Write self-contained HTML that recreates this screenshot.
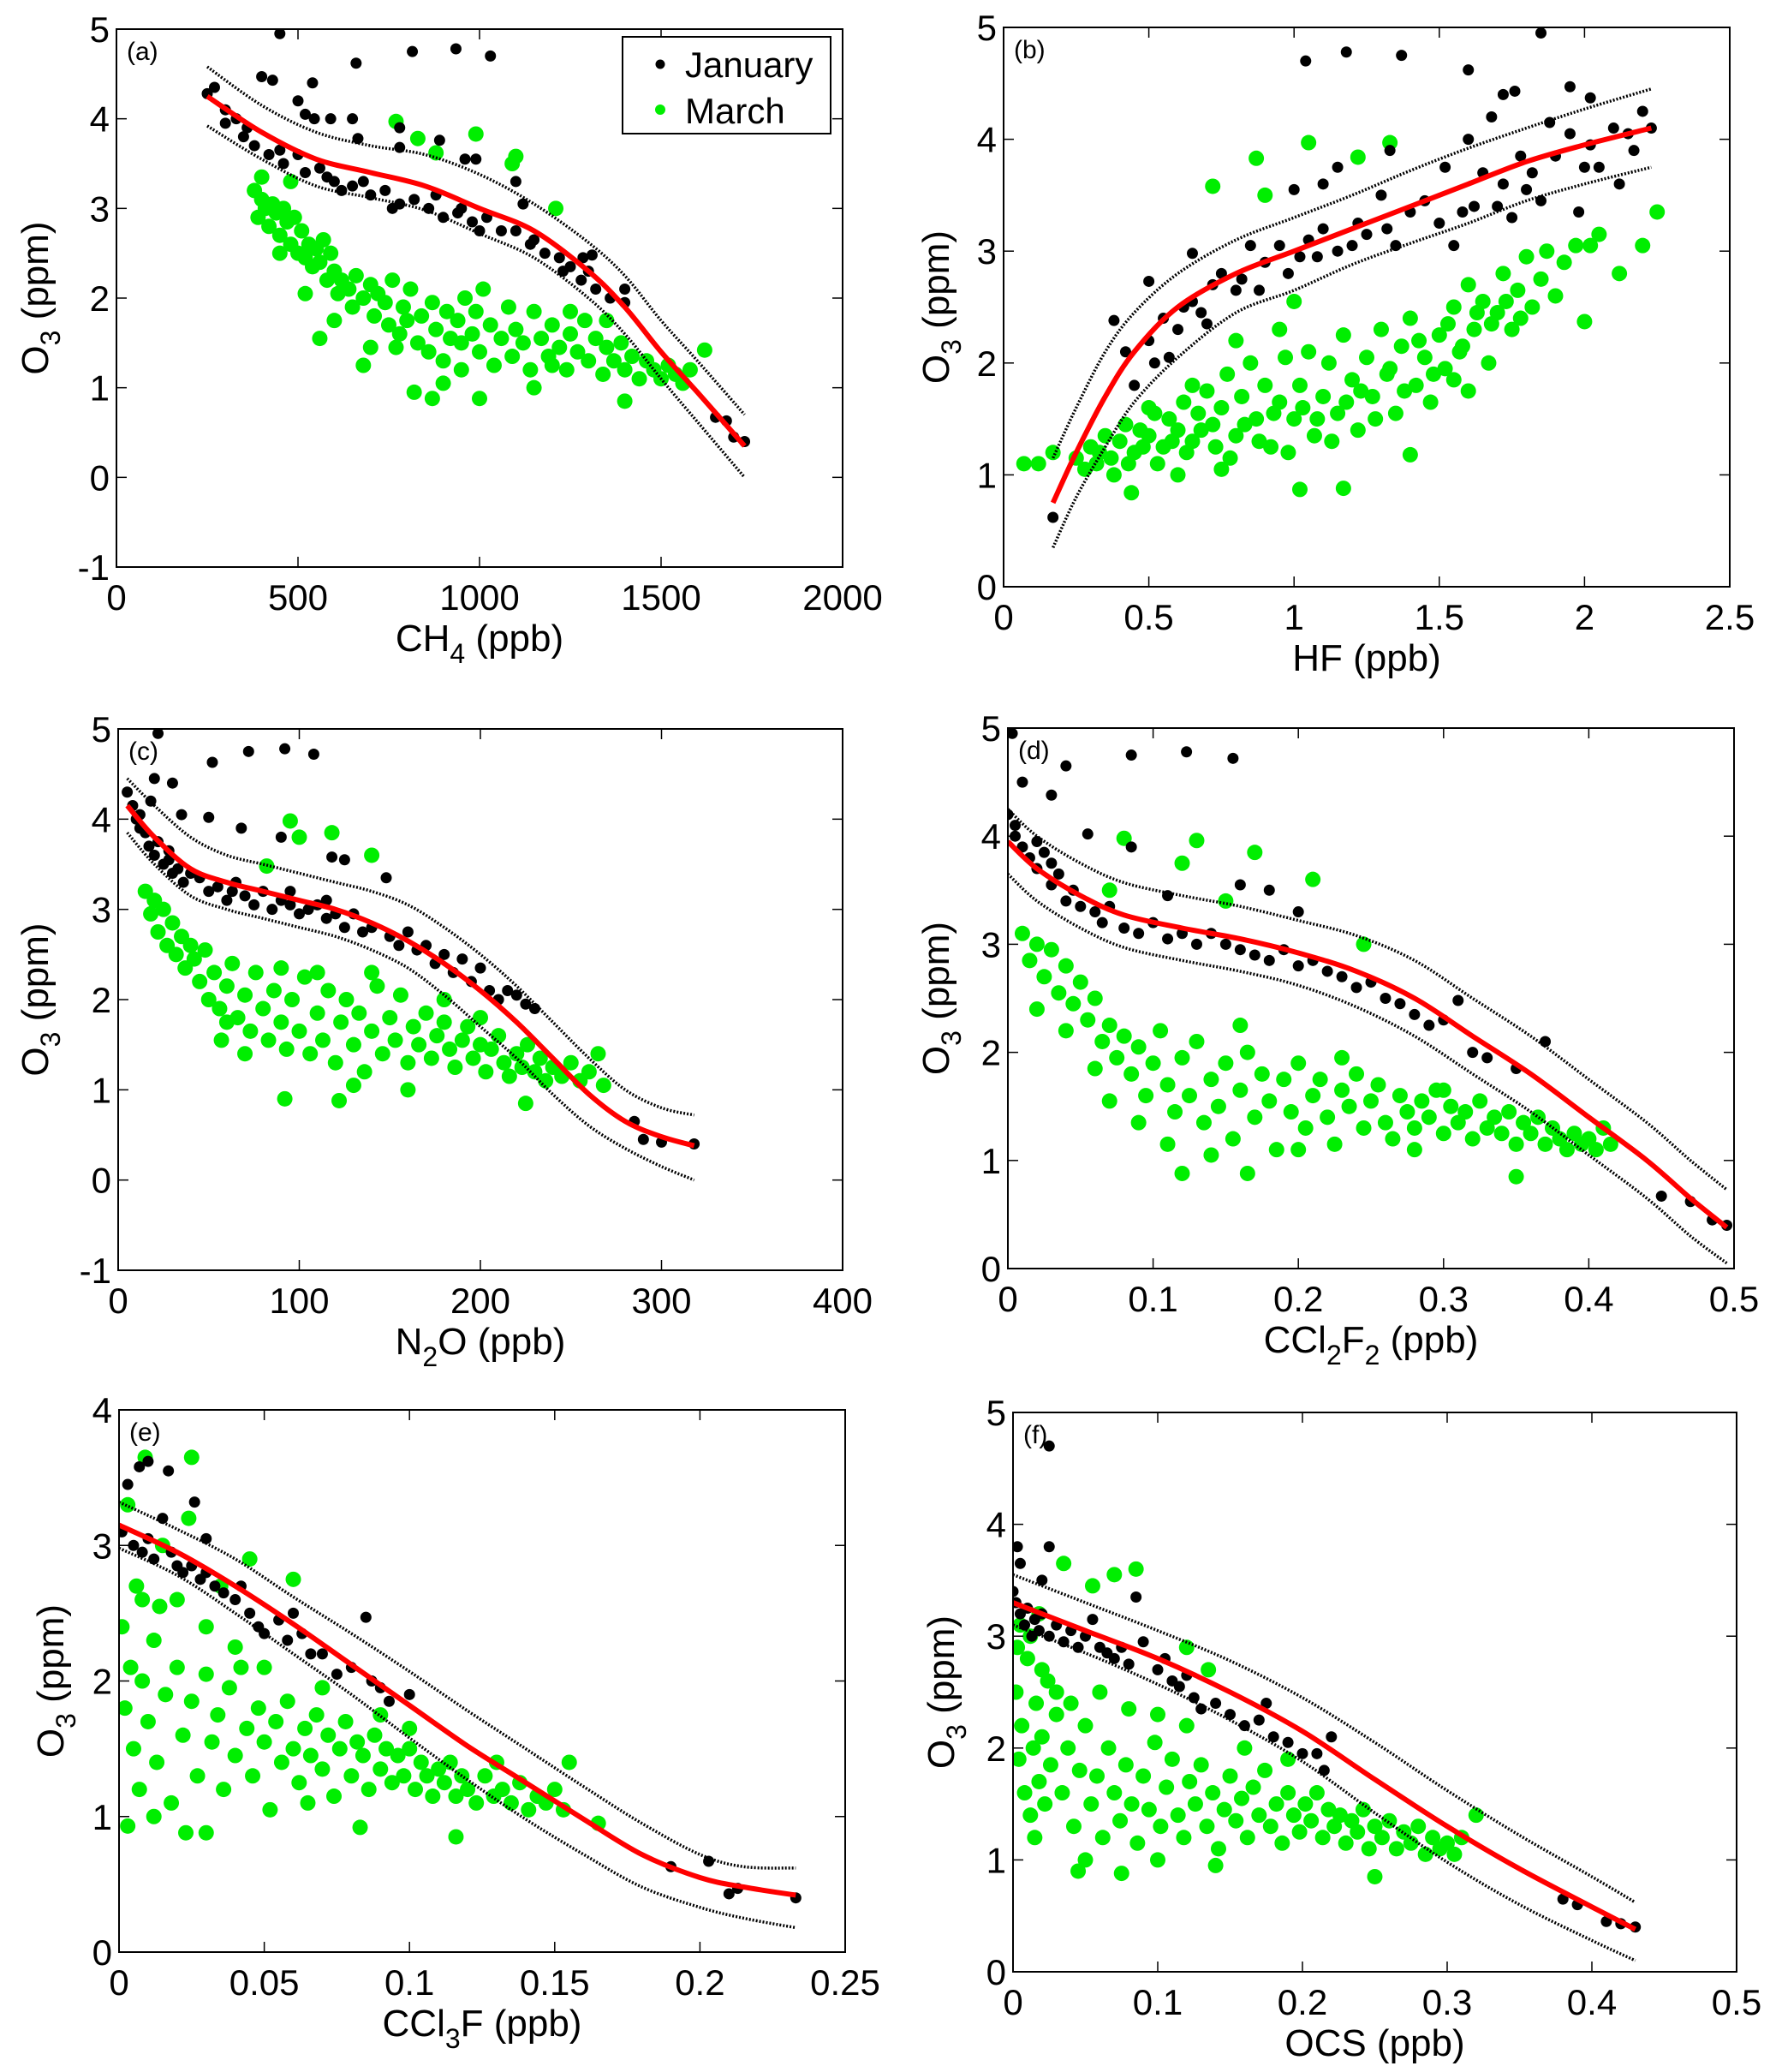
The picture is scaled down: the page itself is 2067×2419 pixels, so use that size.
<!DOCTYPE html>
<html><head><meta charset="utf-8"><style>
html,body{margin:0;padding:0;background:#fff;}
svg{display:block;font-family:"Liberation Sans",Arial,sans-serif;}
</style></head><body>
<svg id="fig" width="2067" height="2419" viewBox="0 0 2067 2419" xmlns="http://www.w3.org/2000/svg"></svg>
<script>
// ---------- Panel (a) CH4 ----------
const aFitX=[250,400,550,700,850,1000,1150,1300,1400,1500,1600,1730];
const aFitY=[4.25,3.85,3.55,3.4,3.25,3.0,2.75,2.3,1.9,1.4,0.95,0.35];
const aUp=[4.58,4.15,3.85,3.7,3.6,3.38,3.05,2.62,2.25,1.75,1.3,0.7];
const aLo=[3.92,3.55,3.25,3.12,2.98,2.72,2.45,2.0,1.6,1.1,0.62,0.0];
const aJan=[[450,4.95],[660,4.62],[815,4.75],[935,4.78],[1030,4.7],[400,4.47],[430,4.43],[540,4.4],[500,4.2],[520,4.05],[545,4.0],[590,4.0],[650,4.0],[665,3.78],[780,3.9],[780,3.68],[890,3.76],[960,3.55],[990,3.55],[1100,3.3],[1120,3.05],[1285,2.45],[1310,2.48],[1400,2.1],[1650,0.67],[1680,0.63],[1700,0.45],[1730,0.4],[250,4.28],[270,4.35],[300,4.1],[330,4.0],[360,3.9],[380,3.7],[420,3.6],[460,3.5],[500,3.6],[520,3.4],[560,3.45],[600,3.3],[620,3.2],[650,3.25],[700,3.15],[740,3.2],[780,3.05],[820,3.1],[860,3.0],[900,2.9],[940,2.95],[980,2.85],[1020,2.9],[1060,2.75],[1100,2.75],[1140,2.6],[1180,2.5],[1220,2.45],[1250,2.35],[1280,2.2],[1320,2.1],[1360,2.0],[1400,1.95],[300,3.95],[350,3.8],[450,3.65],[580,3.35],[680,3.3],[760,3.0],[880,3.15],[950,3.0],[1000,2.75],[1150,2.65],[1230,2.3],[1300,2.3]];
const aMar=[[770,3.97],[990,3.83],[830,3.78],[880,3.62],[1100,3.58],[1090,3.5],[1210,3.0],[400,3.35],[380,3.2],[390,2.9],[400,3.1],[410,3.0],[420,2.8],[430,3.05],[440,2.95],[450,2.7],[460,3.0],[470,2.85],[480,2.6],[490,2.9],[500,2.5],[510,2.75],[520,2.45],[530,2.6],[540,2.35],[550,2.55],[560,2.4],[570,2.65],[580,2.2],[590,2.5],[600,2.3],[610,2.05],[620,2.2],[640,2.1],[650,1.9],[660,2.25],[680,2.0],[700,2.15],[710,1.8],[720,2.05],[740,1.95],[750,1.7],[760,2.2],[780,1.6],[790,1.9],[800,1.75],[810,2.1],[830,1.5],[840,1.8],[860,1.4],[870,1.95],[880,1.65],[900,1.3],[910,1.85],[920,1.55],[940,1.75],[950,1.2],[960,2.0],[980,1.6],[990,1.85],[1000,1.4],[1010,2.1],[1030,1.7],[1040,1.25],[1060,1.55],[1080,1.9],[1090,1.35],[1100,1.65],[1120,1.5],[1140,1.2],[1150,1.85],[1170,1.55],[1190,1.35],[1200,1.7],[1220,1.45],[1240,1.2],[1250,1.6],[1270,1.4],[1290,1.75],[1300,1.3],[1320,1.55],[1340,1.15],[1350,1.45],[1370,1.3],[1390,1.5],[1400,1.2],[1420,1.35],[1440,1.1],[1460,1.3],[1480,1.2],[1500,1.1],[1520,1.25],[1540,1.15],[1560,1.05],[1580,1.2],[1620,1.42],[1400,0.85],[870,0.88],[1000,0.88],[820,0.95],[680,1.25],[560,1.55],[520,2.05],[450,2.5],[700,1.45],[900,1.05],[1150,1.0],[480,3.3],[1200,1.25],[600,1.75],[770,1.45],[950,1.5],[1250,1.85],[1350,1.75]];
// ---------- Panel (b) HF ----------
const bFitX=[0.17,0.25,0.35,0.45,0.6,0.8,1.0,1.2,1.4,1.6,1.8,2.0,2.23];
const bFitY=[0.75,1.2,1.7,2.1,2.5,2.8,3.0,3.2,3.4,3.6,3.8,3.95,4.1];
const bUp=[1.15,1.6,2.1,2.45,2.8,3.1,3.3,3.5,3.72,3.92,4.1,4.27,4.45];
const bLo=[0.35,0.8,1.25,1.65,2.05,2.45,2.65,2.88,3.07,3.25,3.45,3.6,3.75];
const bJan=[[1.04,4.7],[1.18,4.78],[1.37,4.75],[1.6,4.62],[1.85,4.95],[1.95,4.47],[2.02,4.37],[1.72,4.4],[1.76,4.43],[1.68,4.2],[0.38,2.38],[0.5,2.73],[0.65,2.98],[0.17,0.62],[0.42,2.1],[0.45,1.8],[0.5,2.2],[0.52,2.0],[0.55,2.4],[0.57,2.05],[0.6,2.3],[0.62,2.5],[0.65,2.55],[0.68,2.45],[0.7,2.35],[0.72,2.7],[0.75,2.8],[0.8,2.65],[0.82,2.75],[0.85,3.05],[0.88,2.65],[0.9,2.9],[0.95,3.05],[0.98,2.8],[1.0,3.55],[1.02,2.95],[1.05,3.1],[1.08,2.95],[1.1,3.2],[1.15,3.0],[1.2,3.05],[1.22,3.25],[1.25,3.15],[1.3,3.5],[1.32,3.2],[1.35,3.05],[1.4,3.35],[1.45,3.45],[1.5,3.25],[1.52,3.75],[1.55,3.05],[1.58,3.35],[1.6,4.0],[1.62,3.4],[1.65,3.7],[1.7,3.4],[1.72,3.6],[1.75,3.3],[1.78,3.85],[1.8,3.55],[1.82,3.7],[1.85,3.45],[1.88,4.15],[1.9,3.85],[1.95,4.05],[1.98,3.35],[2.0,3.75],[2.02,3.95],[2.05,3.75],[2.1,4.1],[2.12,3.6],[2.15,4.05],[2.17,3.9],[2.2,4.25],[2.23,4.1],[1.15,3.75],[1.33,3.9],[1.1,3.6]];
const bMar=[[0.07,1.1],[0.12,1.1],[0.17,1.2],[0.72,3.58],[0.87,3.83],[1.05,3.97],[1.22,3.84],[1.33,3.97],[0.9,3.5],[2.25,3.35],[2.2,3.05],[2.12,2.8],[2.0,2.37],[1.4,1.18],[1.17,0.88],[1.02,0.87],[0.44,0.84],[0.25,1.15],[0.28,1.05],[0.3,1.25],[0.32,1.1],[0.35,1.35],[0.37,1.15],[0.4,1.3],[0.42,1.45],[0.45,1.2],[0.47,1.4],[0.5,1.35],[0.52,1.55],[0.55,1.25],[0.57,1.5],[0.6,1.4],[0.62,1.65],[0.65,1.3],[0.67,1.55],[0.7,1.75],[0.72,1.45],[0.75,1.6],[0.77,1.9],[0.8,1.35],[0.82,1.7],[0.85,2.0],[0.87,1.5],[0.9,1.8],[0.92,1.25],[0.95,1.65],[0.97,2.05],[1.0,1.5],[1.02,1.8],[1.05,2.1],[1.07,1.35],[1.1,1.7],[1.12,2.0],[1.15,1.55],[1.17,2.25],[1.2,1.85],[1.22,1.4],[1.25,2.05],[1.27,1.7],[1.3,2.3],[1.32,1.9],[1.35,1.55],[1.37,2.15],[1.4,2.4],[1.42,1.8],[1.45,2.05],[1.47,1.65],[1.5,2.25],[1.52,1.95],[1.55,2.5],[1.57,2.1],[1.6,2.7],[1.62,2.3],[1.65,2.55],[1.67,2.0],[1.7,2.45],[1.72,2.8],[1.75,2.3],[1.77,2.65],[1.8,2.95],[1.82,2.5],[1.85,2.75],[1.87,3.0],[1.9,2.6],[1.93,2.9],[1.97,3.05],[2.02,3.05],[2.05,3.15],[0.33,1.2],[0.38,1.0],[0.43,1.1],[0.48,1.25],[0.53,1.1],[0.58,1.3],[0.63,1.2],[0.68,1.4],[0.73,1.25],[0.78,1.15],[0.83,1.45],[0.88,1.3],[0.93,1.55],[0.98,1.2],[1.03,1.6],[1.08,1.5],[1.13,1.3],[1.18,1.65],[1.23,1.75],[1.28,1.5],[1.33,1.95],[1.38,1.75],[1.43,2.2],[1.48,1.9],[1.53,2.35],[1.58,2.15],[1.63,2.45],[1.68,2.35],[1.73,2.55],[1.78,2.4],[1.6,1.75],[1.55,1.85],[0.6,1.0],[0.75,1.05],[0.5,1.6],[0.65,1.8],[0.8,2.2],[1.0,2.55],[0.95,2.3]];
// ---------- Panel (c) N2O ----------
const cFitX=[5,20,40,60,80,100,120,140,160,180,200,220,240,260,280,300,318];
const cFitY=[4.15,3.8,3.45,3.3,3.2,3.1,3.0,2.85,2.65,2.4,2.1,1.75,1.35,0.95,0.65,0.48,0.38];
const cUp=[4.45,4.15,3.8,3.6,3.5,3.4,3.3,3.2,3.05,2.8,2.5,2.15,1.75,1.35,1.0,0.8,0.72];
const cLo=[3.85,3.5,3.15,3.0,2.9,2.8,2.7,2.55,2.35,2.05,1.7,1.35,0.95,0.6,0.35,0.15,0.0];
const cJan=[[22,4.95],[52,4.63],[72,4.75],[92,4.78],[108,4.72],[30,4.4],[50,4.02],[68,3.9],[90,3.8],[118,3.58],[125,3.55],[148,3.35],[20,4.45],[18,4.2],[35,4.05],[285,0.65],[290,0.45],[300,0.42],[318,0.4],[5,4.3],[8,4.15],[10,4.0],[12,3.9],[15,3.85],[17,3.7],[20,3.6],[22,3.75],[25,3.5],[28,3.55],[30,3.4],[33,3.45],[36,3.3],[40,3.4],[45,3.35],[50,3.2],[55,3.25],[60,3.1],[65,3.3],[70,3.15],[75,3.05],[80,3.2],[85,3.0],[90,3.1],[95,3.05],[100,2.95],[105,3.0],[110,3.05],[115,2.9],[120,2.95],[125,2.8],[130,2.95],[135,2.75],[140,2.8],[150,2.7],[155,2.6],[160,2.75],[165,2.55],[170,2.6],[175,2.4],[180,2.5],[185,2.3],[190,2.45],[195,2.2],[200,2.35],[205,2.1],[210,2.0],[215,2.1],[220,2.05],[225,1.95],[230,1.9],[12,4.05],[28,3.65],[63,3.2],[95,3.2],[115,3.1]];
const cMar=[[95,3.98],[118,3.85],[140,3.6],[100,3.8],[82,3.48],[92,0.9],[122,0.88],[225,0.85],[57,1.55],[15,3.2],[18,2.95],[20,3.1],[22,2.75],[25,3.0],[27,2.6],[30,2.85],[32,2.5],[35,2.7],[37,2.35],[40,2.6],[42,2.45],[45,2.2],[48,2.55],[50,2.0],[53,2.3],[56,1.9],[60,2.15],[63,2.4],[66,1.8],[70,2.05],[73,1.65],[76,2.3],[80,1.9],[83,1.55],[86,2.1],[90,1.75],[93,1.45],[96,2.0],[100,1.65],[103,2.25],[106,1.4],[110,1.85],[113,1.55],[116,2.1],[120,1.3],[123,1.75],[126,2.0],[130,1.5],[133,1.85],[136,1.2],[140,1.65],[143,2.15],[146,1.4],[150,1.8],[153,1.55],[156,2.05],[160,1.3],[163,1.7],[166,1.5],[170,1.85],[173,1.35],[176,1.6],[180,1.75],[183,1.45],[186,1.25],[190,1.55],[193,1.7],[196,1.35],[200,1.5],[203,1.2],[206,1.45],[210,1.6],[213,1.3],[216,1.15],[220,1.4],[223,1.25],[226,1.5],[230,1.2],[233,1.35],[236,1.1],[240,1.25],[245,1.15],[250,1.3],[255,1.1],[260,1.2],[265,1.4],[268,1.05],[200,1.8],[180,2.0],[140,2.3],[110,2.3],[70,1.4],[130,1.05],[160,1.0],[60,1.75],[90,2.35]];
// ---------- Panel (d) CCl2F2 ----------
const dFitX=[0,0.02,0.05,0.08,0.12,0.16,0.2,0.24,0.28,0.32,0.36,0.4,0.44,0.47,0.495];
const dFitY=[3.95,3.7,3.45,3.27,3.15,3.05,2.92,2.75,2.5,2.15,1.8,1.4,1.0,0.65,0.38];
const dUp=[4.25,4.0,3.75,3.57,3.45,3.35,3.22,3.08,2.85,2.5,2.15,1.75,1.35,1.0,0.73];
const dLo=[3.65,3.4,3.15,2.97,2.85,2.75,2.62,2.42,2.15,1.8,1.45,1.05,0.65,0.3,0.05];
const dJan=[[0.003,4.95],[0.085,4.75],[0.123,4.78],[0.155,4.72],[0.04,4.65],[0.01,4.5],[0.03,4.38],[0.055,4.02],[0.085,3.9],[0.16,3.55],[0.18,3.5],[0.2,3.3],[0.31,2.48],[0.37,2.1],[0.45,0.67],[0.47,0.62],[0.485,0.45],[0.495,0.4],[0.11,3.45],[0.0,4.2],[0.005,4.0],[0.01,3.9],[0.015,3.8],[0.02,3.7],[0.025,3.85],[0.03,3.55],[0.035,3.65],[0.04,3.4],[0.045,3.5],[0.05,3.35],[0.06,3.3],[0.065,3.2],[0.07,3.35],[0.08,3.15],[0.09,3.1],[0.1,3.2],[0.11,3.05],[0.12,3.1],[0.13,3.0],[0.14,3.1],[0.15,3.0],[0.16,2.95],[0.17,2.9],[0.18,2.85],[0.19,2.95],[0.2,2.8],[0.21,2.85],[0.22,2.75],[0.23,2.7],[0.24,2.6],[0.25,2.65],[0.26,2.5],[0.27,2.45],[0.28,2.35],[0.29,2.25],[0.3,2.3],[0.32,2.0],[0.33,1.95],[0.35,1.85],[0.005,4.1],[0.02,3.95],[0.03,3.75]];
const dMar=[[0.08,3.98],[0.13,3.96],[0.17,3.85],[0.21,3.6],[0.12,3.75],[0.07,3.5],[0.15,3.4],[0.245,3.0],[0.165,0.88],[0.12,0.88],[0.35,0.85],[0.01,3.1],[0.015,2.85],[0.02,3.0],[0.025,2.7],[0.03,2.95],[0.035,2.55],[0.04,2.8],[0.045,2.45],[0.05,2.65],[0.055,2.3],[0.06,2.5],[0.065,2.1],[0.07,2.25],[0.075,1.95],[0.08,2.15],[0.085,1.8],[0.09,2.05],[0.095,1.6],[0.1,1.9],[0.105,2.2],[0.11,1.7],[0.115,1.45],[0.12,1.95],[0.125,1.6],[0.13,2.1],[0.135,1.35],[0.14,1.75],[0.145,1.5],[0.15,1.9],[0.155,1.2],[0.16,1.65],[0.165,2.0],[0.17,1.4],[0.175,1.8],[0.18,1.55],[0.185,1.1],[0.19,1.75],[0.195,1.45],[0.2,1.9],[0.205,1.3],[0.21,1.6],[0.215,1.75],[0.22,1.4],[0.225,1.15],[0.23,1.65],[0.235,1.5],[0.24,1.8],[0.245,1.3],[0.25,1.55],[0.255,1.7],[0.26,1.35],[0.265,1.2],[0.27,1.6],[0.275,1.45],[0.28,1.3],[0.285,1.55],[0.29,1.4],[0.295,1.65],[0.3,1.25],[0.305,1.5],[0.31,1.35],[0.315,1.45],[0.32,1.2],[0.325,1.55],[0.33,1.3],[0.335,1.4],[0.34,1.25],[0.345,1.45],[0.35,1.15],[0.355,1.35],[0.36,1.25],[0.365,1.4],[0.37,1.15],[0.375,1.3],[0.38,1.2],[0.385,1.1],[0.39,1.25],[0.395,1.15],[0.4,1.2],[0.405,1.1],[0.41,1.3],[0.415,1.15],[0.02,2.4],[0.04,2.2],[0.06,1.85],[0.09,1.35],[0.11,1.15],[0.14,1.05],[0.07,1.55],[0.2,1.1],[0.28,1.1],[0.3,1.65],[0.23,1.95],[0.16,2.25]];
// ---------- Panel (e) CCl3F ----------
const eFitX=[0,0.02,0.04,0.06,0.08,0.1,0.12,0.14,0.16,0.18,0.2,0.215,0.233];
const eFitY=[3.15,2.95,2.7,2.42,2.12,1.82,1.52,1.25,0.98,0.72,0.55,0.48,0.42];
const eUp=[3.32,3.12,2.9,2.62,2.35,2.07,1.78,1.5,1.22,0.95,0.72,0.63,0.62];
const eLo=[2.98,2.78,2.5,2.2,1.9,1.58,1.27,0.98,0.72,0.48,0.33,0.25,0.18];
const eJan=[[0.003,3.45],[0.007,3.58],[0.01,3.62],[0.017,3.55],[0.026,3.32],[0.03,3.05],[0.001,3.1],[0.005,3.0],[0.008,2.95],[0.01,3.05],[0.012,2.9],[0.015,3.2],[0.018,2.95],[0.02,2.85],[0.022,2.8],[0.025,2.85],[0.028,2.75],[0.03,2.8],[0.033,2.7],[0.036,2.65],[0.04,2.6],[0.042,2.7],[0.045,2.5],[0.048,2.4],[0.05,2.35],[0.055,2.45],[0.058,2.3],[0.06,2.5],[0.063,2.35],[0.066,2.2],[0.07,2.2],[0.075,2.05],[0.08,2.1],[0.085,2.47],[0.087,2.0],[0.09,1.95],[0.093,1.85],[0.1,1.9],[0.19,0.63],[0.203,0.67],[0.21,0.43],[0.213,0.47],[0.233,0.4]];
const eMar=[[0.001,2.4],[0.002,1.8],[0.003,3.3],[0.004,2.1],[0.005,1.5],[0.006,2.7],[0.007,1.2],[0.008,2.0],[0.009,3.65],[0.01,1.7],[0.012,2.3],[0.013,1.4],[0.014,2.55],[0.016,1.9],[0.018,1.1],[0.02,2.1],[0.022,1.6],[0.024,3.2],[0.025,1.85],[0.027,1.3],[0.03,2.05],[0.032,1.55],[0.034,1.75],[0.036,1.2],[0.038,1.95],[0.04,1.45],[0.042,2.1],[0.044,1.65],[0.046,1.3],[0.048,1.8],[0.05,1.55],[0.052,1.05],[0.054,1.7],[0.056,1.4],[0.058,1.85],[0.06,1.5],[0.062,1.25],[0.064,1.65],[0.066,1.45],[0.068,1.75],[0.07,1.35],[0.072,1.6],[0.074,1.15],[0.076,1.5],[0.078,1.7],[0.08,1.3],[0.082,1.55],[0.084,1.45],[0.086,1.2],[0.088,1.6],[0.09,1.35],[0.092,1.5],[0.094,1.25],[0.096,1.45],[0.098,1.3],[0.1,1.5],[0.102,1.2],[0.104,1.4],[0.106,1.3],[0.108,1.15],[0.11,1.35],[0.112,1.25],[0.114,1.4],[0.116,1.15],[0.118,1.3],[0.12,1.2],[0.123,1.1],[0.126,1.3],[0.129,1.15],[0.132,1.2],[0.135,1.1],[0.138,1.25],[0.141,1.05],[0.144,1.15],[0.147,1.1],[0.15,1.2],[0.153,1.05],[0.155,1.4],[0.165,0.95],[0.116,0.85],[0.083,0.92],[0.03,0.88],[0.023,0.88],[0.003,0.93],[0.045,2.9],[0.06,2.75],[0.035,2.7],[0.012,1.0],[0.02,2.6],[0.03,2.4],[0.05,2.1],[0.07,1.95],[0.015,3.0],[0.008,2.6],[0.04,2.25],[0.065,1.1],[0.1,1.65],[0.09,1.75],[0.13,1.4],[0.025,3.65]];
// ---------- Panel (f) OCS ----------
const fFitX=[0,0.05,0.1,0.15,0.2,0.25,0.3,0.35,0.4,0.43];
const fFitY=[3.3,3.05,2.8,2.5,2.15,1.72,1.3,0.92,0.58,0.38];
const fUp=[3.55,3.3,3.05,2.78,2.45,2.05,1.62,1.22,0.85,0.62];
const fLo=[3.1,2.85,2.57,2.25,1.88,1.42,0.98,0.6,0.28,0.1];
const fJan=[[0.025,4.7],[0.003,3.8],[0.005,3.65],[0.025,3.8],[0.02,3.5],[0.085,3.35],[0.0,3.4],[0.002,3.3],[0.005,3.2],[0.008,3.1],[0.01,3.25],[0.013,3.0],[0.015,3.15],[0.018,3.05],[0.02,3.2],[0.025,3.0],[0.03,3.1],[0.035,2.95],[0.04,3.05],[0.045,2.9],[0.05,3.0],[0.055,3.15],[0.06,2.9],[0.065,2.85],[0.07,2.8],[0.075,2.9],[0.08,2.75],[0.09,2.95],[0.1,2.7],[0.105,2.8],[0.11,2.6],[0.115,2.55],[0.12,2.65],[0.125,2.45],[0.13,2.35],[0.14,2.4],[0.15,2.3],[0.16,2.2],[0.17,2.25],[0.175,2.4],[0.18,2.1],[0.19,2.05],[0.2,1.95],[0.21,1.95],[0.215,1.8],[0.22,2.1],[0.38,0.65],[0.39,0.6],[0.41,0.45],[0.42,0.43],[0.43,0.4]];
const fMar=[[0.035,3.65],[0.07,3.55],[0.085,3.6],[0.055,3.45],[0.12,2.9],[0.135,2.7],[0.045,0.9],[0.075,0.88],[0.25,0.85],[0.32,1.4],[0.002,2.5],[0.004,1.9],[0.005,3.1],[0.006,2.2],[0.008,1.6],[0.01,2.8],[0.012,1.4],[0.014,2.0],[0.016,2.4],[0.018,1.7],[0.02,2.1],[0.022,1.5],[0.024,2.6],[0.026,1.85],[0.03,2.3],[0.034,1.6],[0.038,2.0],[0.042,1.3],[0.046,1.8],[0.05,2.2],[0.054,1.5],[0.058,1.75],[0.062,1.2],[0.066,2.0],[0.07,1.6],[0.074,1.35],[0.078,1.85],[0.082,1.5],[0.086,1.15],[0.09,1.75],[0.094,1.45],[0.098,2.05],[0.102,1.3],[0.106,1.65],[0.11,1.9],[0.114,1.4],[0.118,1.2],[0.122,1.7],[0.126,1.5],[0.13,1.85],[0.134,1.3],[0.138,1.6],[0.142,1.1],[0.146,1.45],[0.15,1.75],[0.154,1.35],[0.158,1.55],[0.162,1.2],[0.166,1.65],[0.17,1.4],[0.174,1.8],[0.178,1.3],[0.182,1.5],[0.186,1.15],[0.19,1.6],[0.194,1.4],[0.198,1.25],[0.202,1.5],[0.206,1.35],[0.21,1.6],[0.214,1.2],[0.218,1.45],[0.222,1.3],[0.226,1.4],[0.23,1.15],[0.234,1.35],[0.238,1.25],[0.242,1.45],[0.246,1.1],[0.25,1.3],[0.255,1.2],[0.26,1.35],[0.265,1.1],[0.27,1.25],[0.275,1.15],[0.28,1.3],[0.285,1.05],[0.29,1.2],[0.295,1.1],[0.3,1.15],[0.305,1.05],[0.31,1.2],[0.003,2.9],[0.012,3.0],[0.02,2.7],[0.03,2.5],[0.04,2.4],[0.015,1.2],[0.06,2.5],[0.1,2.3],[0.08,2.35],[0.12,2.2],[0.16,2.0],[0.19,1.9],[0.05,1.0],[0.1,1.0],[0.14,0.95],[0.018,3.2]];
// ---------- tick labels ----------
const aXTicks=["0","500","1000","1500","2000"], aYTicks=["-1","0","1","2","3","4","5"];
const bXTicks=["0","0.5","1","1.5","2","2.5"], bYTicks=["0","1","2","3","4","5"];
const cXTicks=["0","100","200","300","400"], cYTicks=["-1","0","1","2","3","4","5"];
const dXTicks=["0","0.1","0.2","0.3","0.4","0.5"], dYTicks=["0","1","2","3","4","5"];
const eXTicks=["0","0.05","0.1","0.15","0.2","0.25"], eYTicks=["0","1","2","3","4"];
const fXTicks=["0","0.1","0.2","0.3","0.4","0.5"], fYTicks=["0","1","2","3","4","5"];

const NS="http://www.w3.org/2000/svg";
const svg=document.getElementById('fig');
function mk(tag,attrs,parent){const e=document.createElementNS(NS,tag);for(const k in attrs)e.setAttribute(k,attrs[k]);(parent||svg).appendChild(e);return e;}
function smooth(pts){
  let d='M'+pts[0][0].toFixed(1)+' '+pts[0][1].toFixed(1);
  for(let i=0;i<pts.length-1;i++){
    const p0=pts[Math.max(0,i-1)],p1=pts[i],p2=pts[i+1],p3=pts[Math.min(pts.length-1,i+2)];
    const c1x=p1[0]+(p2[0]-p0[0])/6,c1y=p1[1]+(p2[1]-p0[1])/6;
    const c2x=p2[0]-(p3[0]-p1[0])/6,c2y=p2[1]-(p3[1]-p1[1])/6;
    d+=` C${c1x.toFixed(1)} ${c1y.toFixed(1)} ${c2x.toFixed(1)} ${c2y.toFixed(1)} ${p2[0].toFixed(1)} ${p2[1].toFixed(1)}`;
  }
  return d;
}

function panel(p){
  const g=mk('g',{});
  
  
  const xmin=+p.xt[0], xmax=+p.xt[p.xt.length-1], ymin=+p.yt[0], ymax=+p.yt[p.yt.length-1];
  const sx=v=>p.L+(v-xmin)/(xmax-xmin)*(p.R-p.L);
  const sy=v=>p.B-(v-ymin)/(ymax-ymin)*(p.B-p.T);
  const cp=mk('clipPath',{id:'clip'+p.id},g);
  mk('rect',{x:p.L,y:p.T,width:p.R-p.L,height:p.B-p.T},cp);
  const plot=mk('g',{'clip-path':'url(#clip'+p.id+')'},g);
  
  
  const gm=mk('g',{fill:'#00ee00'},plot);
  
  
  p.mar.forEach(d=>{const c=mk('circle',{cx:sx(d[0]),cy:sy(d[1]),r:9},gm);
    
    });
  const gj=mk('g',{fill:'#000'},plot);
  
  
  p.jan.forEach(d=>{const c=mk('circle',{cx:sx(d[0]),cy:sy(d[1]),r:6.5},gj);
    
    });
  const path=(ys)=>smooth(p.fx.map((x,i)=>[sx(x),sy(ys[i])]));
  const up=mk('path',{d:path(p.up),fill:'none',stroke:'#000','stroke-width':3.5,'stroke-dasharray':'2 2'},plot);
  
  
  const lo=mk('path',{d:path(p.lo),fill:'none',stroke:'#000','stroke-width':3.5,'stroke-dasharray':'2 2'},plot);
  
  
  const fit=mk('path',{d:path(p.fy),fill:'none',stroke:'#ff0000','stroke-width':6,'stroke-linejoin':'round'},plot);
  
  
  const fr=mk('rect',{x:p.L,y:p.T,width:p.R-p.L,height:p.B-p.T,fill:'none',stroke:'#000','stroke-width':2},g);
  
  
  p.xt.forEach(t=>{const x=sx(+t);
    mk('line',{x1:x,x2:x,y1:p.B,y2:p.B-12,stroke:'#000','stroke-width':1.5},g);
    mk('line',{x1:x,x2:x,y1:p.T,y2:p.T+12,stroke:'#000','stroke-width':1.5},g);
    const tx=mk('text',{x:x,y:p.B+50,'font-size':42,'text-anchor':'middle'},g);tx.textContent=t;
    
    });
  p.yt.forEach(t=>{const y=sy(+t);
    mk('line',{x1:p.L,x2:p.L+12,y1:y,y2:y,stroke:'#000','stroke-width':1.5},g);
    mk('line',{x1:p.R,x2:p.R-12,y1:y,y2:y,stroke:'#000','stroke-width':1.5},g);
    const ty=mk('text',{x:p.L-8,y:y+15,'font-size':42,'text-anchor':'end'},g);ty.textContent=t;
    
    });
  const pl=mk('text',{x:p.L+12,y:p.T+36,'font-size':30},g);pl.textContent='('+p.id+')';
  
  
  const xl=mk('text',{x:(p.L+p.R)/2,y:p.B+98,'font-size':44,'text-anchor':'middle'},g);
  
  
  p.xl.forEach(s=>{const ts=mk('tspan',{},xl);ts.textContent=s[0];if(s[1]){ts.setAttribute('font-size',32);ts.setAttribute('dy',14);}else if(ts.previousSibling&&ts.previousSibling.getAttribute('dy')=='14'){ts.setAttribute('dy',-14);}});
  const yl=mk('text',{transform:`translate(${p.yx},${(p.T+p.B)/2}) rotate(-90)`,'font-size':44,'text-anchor':'middle'},g);
  
  
  const t1=mk('tspan',{},yl);t1.textContent='O';
  const t2=mk('tspan',{'font-size':32,dy:14},yl);t2.textContent='3';
  const t3=mk('tspan',{dy:-14},yl);t3.textContent=' (ppm)';
}

panel({id:'a',L:136,R:984,T:34,B:662,xt:aXTicks,yt:aYTicks,fx:aFitX,fy:aFitY,up:aUp,lo:aLo,jan:aJan,mar:aMar,yx:56,xl:[['CH'],['4',1],[' (ppb)']]});
panel({id:'b',L:1172,R:2020,T:32,B:685,xt:bXTicks,yt:bYTicks,fx:bFitX,fy:bFitY,up:bUp,lo:bLo,jan:bJan,mar:bMar,yx:1108,xl:[['HF (ppb)']]});
panel({id:'c',L:138,R:984,T:851,B:1483,xt:cXTicks,yt:cYTicks,fx:cFitX,fy:cFitY,up:cUp,lo:cLo,jan:cJan,mar:cMar,yx:56,xl:[['N'],['2',1],['O (ppb)']]});
panel({id:'d',L:1177,R:2025,T:850,B:1481,xt:dXTicks,yt:dYTicks,fx:dFitX,fy:dFitY,up:dUp,lo:dLo,jan:dJan,mar:dMar,yx:1108,xl:[['CCl'],['2',1],['F'],['2',1],[' (ppb)']]});
panel({id:'e',L:139,R:987,T:1646,B:2279,xt:eXTicks,yt:eYTicks,fx:eFitX,fy:eFitY,up:eUp,lo:eLo,jan:eJan,mar:eMar,yx:74,xl:[['CCl'],['3',1],['F (ppb)']]});
panel({id:'f',L:1183,R:2028,T:1649,B:2302,xt:fXTicks,yt:fYTicks,fx:fFitX,fy:fFitY,up:fUp,lo:fLo,jan:fJan,mar:fMar,yx:1114,xl:[['OCS (ppb)']]});

const lg=mk('g',{});


mk('rect',{x:727,y:43,width:243,height:113,fill:'#fff',stroke:'#000','stroke-width':2},lg);
mk('circle',{cx:771,cy:75,r:5.5,fill:'#000'},lg);
mk('circle',{cx:771,cy:128,r:6,fill:'#00ee00'},lg);
const l1=mk('text',{x:800,y:90,'font-size':42},lg);l1.textContent='January';


const l2=mk('text',{x:800,y:144,'font-size':42},lg);l2.textContent='March';


</script>
</body></html>
